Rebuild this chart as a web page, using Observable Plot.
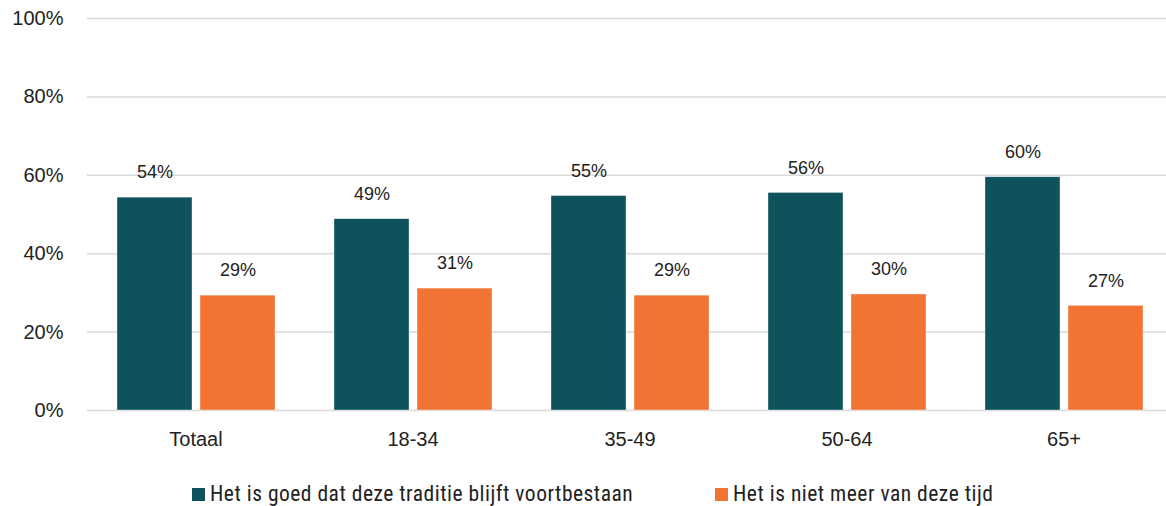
<!DOCTYPE html>
<html>
<head>
<meta charset="utf-8">
<script src="https://cdn.jsdelivr.net/npm/d3@7"></script>
<script src="https://cdn.jsdelivr.net/npm/@observablehq/plot@0.6"></script>
<style>
  html, body { margin: 0; padding: 0; background: #fff; overflow: hidden; width: 1166px; height: 506px; }
  #chart svg { display: block; max-width: none !important; }
  #legend { position: relative; height: 46px; font-family: "Liberation Sans Narrow", "Roboto Condensed", "Liberation Sans", sans-serif; font-size: 21.5px; letter-spacing: 0.5px; color: #222; }
  .item { position: absolute; top: 22px; display: flex; align-items: center; white-space: nowrap; line-height: 24px; }
  .sw { width: 13px; height: 13px; margin-right: 5px; }
</style>
</head>
<body>
<div id="chart"></div>
<div id="legend"></div>
<script>
const categories = ["Totaal", "18-34", "35-49", "50-64", "65+"];
const seriesNames = ["Het is goed dat deze traditie blijft voortbestaan", "Het is niet meer van deze tijd"];
const goed = [54.3, 48.8, 54.7, 55.5, 59.5];
const nietMeer = [29.3, 31.1, 29.3, 29.6, 26.7];
const colors = ["#0e525b", "#f37335"];
const yTicks = [0, 20, 40, 60, 80, 100];

const data = [];
categories.forEach((c, i) => {
  data.push({cat: c, series: seriesNames[0], value: goed[i]});
  data.push({cat: c, series: seriesNames[1], value: nietMeer[i]});
});

const chart = Plot.plot({
  width: 1172,
  height: 460,
  marginLeft: 86,
  marginRight: 0,
  marginTop: 18,
  marginBottom: 50,
  style: {fontFamily: "'Liberation Sans', Arial, sans-serif", fontSize: "20px", color: "#222", background: "white", maxWidth: "none"},
  fx: {domain: categories, padding: 0, label: null, axis: "bottom", tickSize: 0, tickPadding: 21},
  x: {domain: seriesNames, paddingInner: 0.0964, paddingOuter: 0.349, axis: null},
  y: {domain: [0, 100], ticks: yTicks, tickFormat: d => d + "%", tickSize: 0, tickPadding: 24, label: null},
  color: {domain: seriesNames, range: colors},
  marks: [
    Plot.ruleY(yTicks, {stroke: "#d9d9d9", strokeWidth: 1.5}),
    Plot.barY(data, {fx: "cat", x: "series", y: "value", fill: "series", stroke: "#ffffff", strokeOpacity: 0.6, strokeWidth: 0.6}),
    Plot.text(data, {fx: "cat", x: "series", y: "value", text: d => Math.round(d.value) + "%", dy: -25, fontSize: 18, fill: "#222"})
  ]
});
document.getElementById("chart").appendChild(chart);

const legend = document.getElementById("legend");
const legendX = [192, 715];
seriesNames.forEach((s, i) => {
  const item = document.createElement("div");
  item.className = "item";
  item.style.left = legendX[i] + "px";
  const sw = document.createElement("span");
  sw.className = "sw";
  sw.style.background = colors[i];
  const t = document.createElement("span");
  t.textContent = s;
  item.appendChild(sw);
  item.appendChild(t);
  legend.appendChild(item);
});
</script>
</body>
</html>
